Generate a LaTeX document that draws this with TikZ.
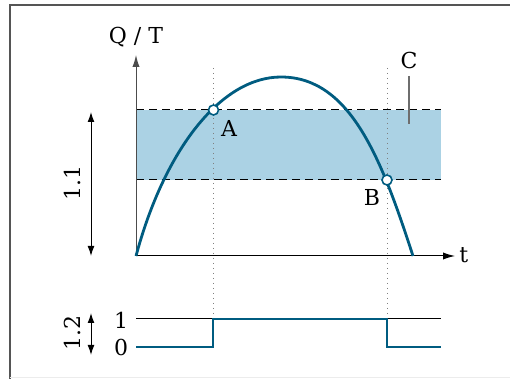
\documentclass[tikz,border=0pt]{standalone}
\usepackage{fontspec}
\setmainfont{DejaVu Serif}
\usetikzlibrary{arrows.meta}
\definecolor{curve}{RGB}{0,92,128}
\definecolor{band}{RGB}{171,210,228}
\definecolor{edge}{RGB}{85,85,85}
\definecolor{lead}{RGB}{110,110,110}

\begin{document}
\begin{tikzpicture}[x=0.5pt, y=-0.5pt, font=\fontsize{11}{13}\selectfont,
  lbl/.style={inner sep=1pt},
  ax/.style={-{Latex[length=6pt,width=3.6pt]}, line width=0.5pt},
  span/.style={{Latex[length=5pt,width=3.4pt]}-{Latex[length=5pt,width=3.4pt]}, line width=0.5pt},
  limit/.style={dashed, dash pattern=on 4pt off 2.5pt, line width=0.5pt},
  guide/.style={dotted, gray, line width=0.5pt},
  wave/.style={curve, line width=1.4pt},
  pt/.style={circle, draw=curve, fill=white, line width=0.8pt, minimum size=5pt, inner sep=0pt}]

\useasboundingbox (0,0) rectangle (510,379);

% frame
\draw[edge, line width=1pt] (9.5,379) -- (9.5,5.5) -- (510,5.5);
\draw[gray!15, line width=0.5pt] (9.5,378) -- (510,378);

% band C
\fill[band] (136,110) rectangle (441,180);
\draw[limit] (136,110) -- (441,110);
\draw[limit] (136,180) -- (441,180);

% coordinates
\coordinate (O) at (136,256);
\coordinate (ytip) at (136,55);
\coordinate (xtip) at (455,256);
\coordinate (top) at (281,77);
\coordinate (end) at (413,256);
\coordinate (gA) at (213,68);
\coordinate (gB) at (387,68);
\coordinate (sA) at (213,319);
\coordinate (sB) at (387,319);

% guides
\draw[guide] (gA) -- (sA);
\draw[guide] (gB) -- (sB);

% axes
\draw[ax, black!70] (O) -- (ytip);
\draw[ax] (O) -- (xtip);
\node[lbl] at (136,37) (lblQT) {Q / T};
\node[lbl, anchor=west] at (457,255) (lblt) {t};

% signal curve
\draw[wave] (O) .. controls (164.5,149.7) and (221,77) .. (top)
  .. controls (351,77) and (382.1,160.9) .. (end);

\node[pt] at (213.5,110) (A) {};
\node[pt] at (387,180) (B) {};
\node[lbl] at (229,128) (lblA) {A};
\node[lbl] at (372,197) (lblB) {B};

% label C
\node[lbl] at (409,60) (lblC) {C};
\coordinate (cTop) at (409,76);
\coordinate (cBot) at (409,124);
\draw[lead, line width=0.6pt] (cTop) -- (cBot);

% range 1.1
\coordinate (r1a) at (91,112);
\coordinate (r1b) at (91,256);
\draw[span] (r1a) -- (r1b);
\node[lbl, rotate=90] at (72,183) (lbl11) {1.1};

% switch output
\coordinate (hi0) at (136,319);
\coordinate (hi1) at (441,319);
\draw[line width=0.5pt] (hi0) -- (hi1);
\draw[wave] (136,347) -- (213,347) -- (sA) -- (sB) -- (387,347) -- (441,347);
\node[lbl] at (121,320) (lbl1) {1};
\node[lbl] at (121,347) (lbl0) {0};

% range 1.2
\coordinate (r2a) at (91,313);
\coordinate (r2b) at (91,355);
\draw[span] (r2a) -- (r2b);
\node[lbl, rotate=90] at (72,333) (lbl12) {1.2};
\end{tikzpicture}
\end{document}
